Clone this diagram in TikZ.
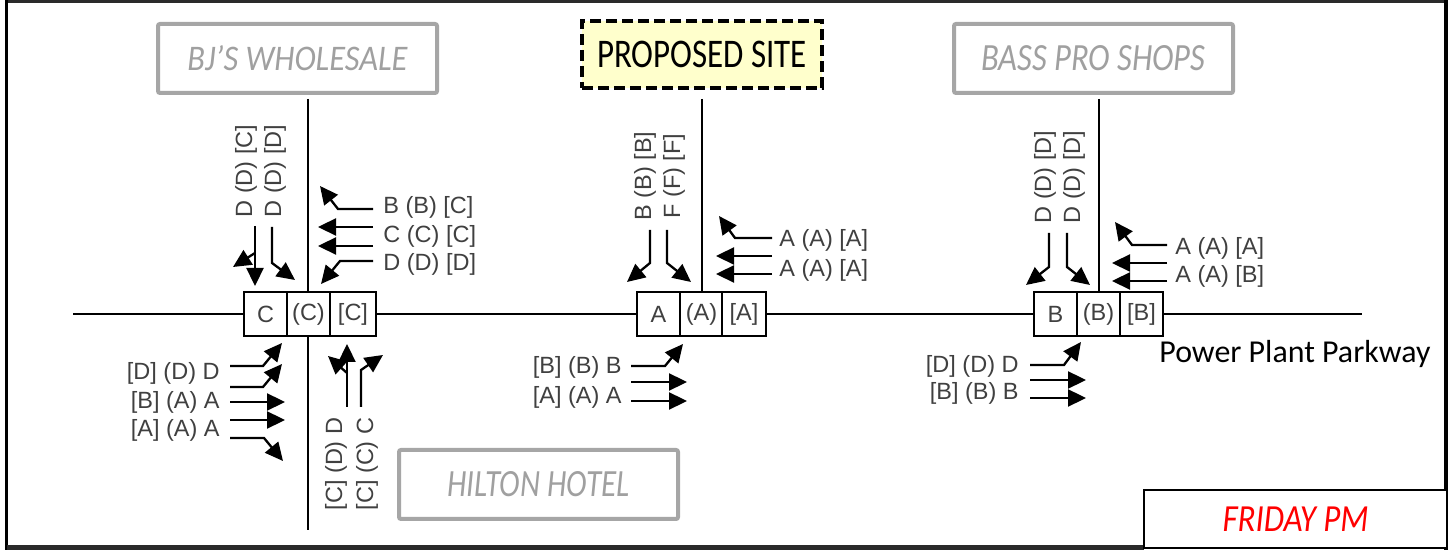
\documentclass[tikz,border=0pt]{standalone}
\usepackage{fontspec}
\setmainfont{Liberation Sans}
\newfontfamily\carl{Carlito}
\usetikzlibrary{arrows.meta}
\definecolor{lblc}{HTML}{404040}
\definecolor{storegray}{HTML}{A6A6A6}
\definecolor{storetext}{HTML}{A0A0A0}
\definecolor{siteyellow}{HTML}{FFFFCC}
\definecolor{framec}{HTML}{2A2A2A}
\begin{document}
\begin{tikzpicture}[x=0.5pt,y=-0.5pt,
  arr/.style={line width=1.15pt,-{Triangle[length=9pt,width=8.5pt]}},
  road/.style={line width=1.4pt},
  lbl/.style={text=lblc,font=\fontsize{11.75}{14}\selectfont,inner sep=0pt},
  vlbl/.style={lbl,rotate=90},
  lanecell/.style={draw,line width=1.2pt,fill=white,inner sep=0pt,minimum height=22pt,text=lblc,font=\fontsize{11.75}{14}\selectfont},
  store/.style={draw=storegray,line width=2pt,rounded corners=1pt,fill=white,inner sep=0pt,minimum width=139.5pt,minimum height=34.5pt,text=storetext},
]
\useasboundingbox (0,0) rectangle (1452,550);
% frame
\fill[framec] (7,0) rectangle (1447,3);
\fill[black] (4.5,0) rectangle (7.5,550);
\fill[black] (1444,0) rectangle (1447.5,550);
\fill[framec] (7,545) rectangle (1144,550);

% roads
\draw[road] (73,314) -- (1362,314);
\draw[road] (308,99) -- (308,530);
\draw[road] (702,99) -- (702,292);
\draw[road] (1099,99) -- (1099,292);

% store boxes
\node[store] (bj) at (297.5,58.5) {\resizebox{110pt}{12.5pt}{\carl\itshape BJ’S WHOLESALE}};
\node[store] (bass) at (1093.5,58.5) {\resizebox{112pt}{12.5pt}{\carl\itshape BASS PRO SHOPS}};
\node[store] (hilton) at (538.5,484.5) {\resizebox{91pt}{12.5pt}{\carl\itshape HILTON HOTEL}};
\node[draw=black,line width=2.4pt,dash pattern=on 5.5pt off 2.5pt,fill=siteyellow,inner sep=0pt,minimum width=120pt,minimum height=33.5pt] (site) at (702,54.5) {\resizebox{105pt}{13.2pt}{\carl PROPOSED SITE}};
\node[draw=black,line width=1.2pt,fill=white,inner sep=0pt,minimum width=151.5pt,minimum height=29pt] (friday) at (1295.5,519) {\resizebox{73pt}{12.3pt}{\carl\itshape\color{red} FRIDAY PM}};
\node[anchor=base west,inner sep=0pt] (ppp) at (1159,363) {\resizebox{135.5pt}{!}{\carl Power Plant Parkway}};

% lane boxes
\node[lanecell,minimum width=21.5pt] (l1) at (265.5,314) {C};
\node[lanecell,minimum width=21.5pt] (l2) at (308.5,314) {(C)};
\node[lanecell,minimum width=23pt] (l3) at (353,314) {[C]};
\node[lanecell,minimum width=21.5pt] (m1) at (658.5,314) {A};
\node[lanecell,minimum width=21.5pt] (m2) at (701.5,314) {(A)};
\node[lanecell,minimum width=22pt] (m3) at (744,314) {[A]};
\node[lanecell,minimum width=21.5pt] (r1) at (1055.5,314) {\raisebox{-2pt}{B}};
\node[lanecell,minimum width=21.5pt] (r2) at (1098.5,314) {(B)};
\node[lanecell,minimum width=21.5pt] (r3) at (1141.5,314) {[B]};

% ---- left intersection
\node[vlbl] (lsb1) at (246,171) {D (D) [C]};
\node[vlbl] (lsb2) at (275,171) {D (D) [D]};
\draw[arr] (255,226) -- (255,286);
\draw[arr] (255,253) -- (233,267);
\draw[arr] (272,227) -- (272,263) -- (295,280);

\node[lbl,anchor=west] (lwb1) at (383,207) {B (B) [C]};
\node[lbl,anchor=west] (lwb2) at (383,236) {C (C) [C]};
\node[lbl,anchor=west] (lwb3) at (383,264) {D (D) [D]};
\draw[arr] (373,209) -- (338,209) -- (320,186);
\draw[arr] (373,227) -- (318,227);
\draw[arr] (373,246) -- (318,246);
\draw[arr] (373,261) -- (340,261) -- (321,284);

\node[lbl,anchor=east] (leb1) at (220,373) {[D] (D) D};
\node[lbl,anchor=east] (leb2) at (220,402) {[B] (A) A};
\node[lbl,anchor=east] (leb3) at (220,430) {[A] (A) A};
\draw[arr] (230,366) -- (263,366) -- (282,343);
\draw[arr] (230,387) -- (263,387) -- (282,364);
\draw[arr] (230,402) -- (285,402);
\draw[arr] (230,420) -- (285,420);
\draw[arr] (230,438) -- (264,438) -- (283,461);

\node[vlbl] (lnb1) at (336,464) {[C] (D) D};
\node[vlbl] (lnb2) at (367,464) {[C] (C) C};
\draw[arr] (347,407) -- (347,344);
\draw[arr] (347,373) -- (328,356);
\draw[arr] (361,407) -- (361,370) -- (383,355);

% ---- middle intersection
\node[vlbl] (msb1) at (645,176) {B (B) [B]};
\node[vlbl] (msb2) at (674,176) {F (F) [F]};
\draw[arr] (650,230) -- (650,263) -- (627,282);
\draw[arr] (667,230) -- (667,263) -- (691,282);

\node[lbl,anchor=west] (mwb1) at (779,240) {A (A) [A]};
\node[lbl,anchor=west] (mwb2) at (779,270) {A (A) [A]};
\draw[arr] (772,238) -- (735,238) -- (719,216);
\draw[arr] (772,256) -- (716,256);
\draw[arr] (772,274) -- (716,274);

\node[lbl,anchor=east] (meb1) at (622,367) {[B] (B) B};
\node[lbl,anchor=east] (meb2) at (622,397) {[A] (A) A};
\draw[arr] (631,366) -- (665,366) -- (683,344);
\draw[arr] (631,382) -- (687,382);
\draw[arr] (631,401) -- (687,401);

% ---- right intersection
\node[vlbl] (rsb1) at (1045,177) {D (D) [D]};
\node[vlbl] (rsb2) at (1074,177) {D (D) [D]};
\draw[arr] (1049,233) -- (1049,267) -- (1026,285);
\draw[arr] (1067,233) -- (1067,267) -- (1090,285);

\node[lbl,anchor=west] (rwb1) at (1175,248) {A (A) [A]};
\node[lbl,anchor=west] (rwb2) at (1175,276) {A (A) [B]};
\draw[arr] (1167,245) -- (1132,245) -- (1115,222);
\draw[arr] (1167,263) -- (1112,263);
\draw[arr] (1167,281) -- (1112,281);

\node[lbl,anchor=east] (reb1) at (1019,366) {[D] (D) D};
\node[lbl,anchor=east] (reb2) at (1019,393) {[B] (B) B};
\draw[arr] (1030,365) -- (1064,365) -- (1081,342);
\draw[arr] (1030,380) -- (1086,380);
\draw[arr] (1030,398) -- (1086,398);
\end{tikzpicture}
\end{document}
